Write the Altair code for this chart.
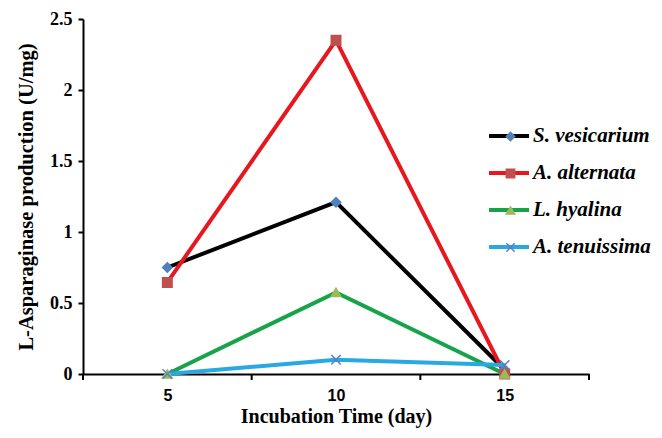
import altair as alt
import pandas as pd

days = [5, 10, 15]
series_names = ["S. vesicarium", "A. alternata", "L. hyalina", "A. tenuissima"]
s_vesicarium = [0.75, 1.21, 0.03]
a_alternata = [0.645, 2.35, 0.0]
l_hyalina = [0.0, 0.575, 0.0]
a_tenuissima = [0.0, 0.10, 0.063]
y_ticks = [0, 0.5, 1, 1.5, 2, 2.5]
x_labels = [5, 10, 15]
x_category_edges = [2.5, 7.5, 12.5, 17.5]

line_colors = ["#000000", "#e8171f", "#17a34a", "#29a9e1"]
marker_colors = ["#4f81bd", "#c0504d", "#9bbb59", "#5b7fc4"]
marker_shapes = ["diamond", "square", "triangle-up", "M-1,-1L1,1M-1,1L1,-1"]

rows = []
for name, vals in zip(series_names, [s_vesicarium, a_alternata, l_hyalina, a_tenuissima]):
    for d, v in zip(days, vals):
        rows.append({"day": d, "value": v, "series": name, "marker": name})
df = pd.DataFrame(rows)

SERIF = "Liberation Serif"
SANS = "Liberation Sans"
xscale = alt.Scale(domain=[2.5, 17.5], nice=False, zero=False)
yscale = alt.Scale(domain=[0, 2.5], nice=False)
xaxis = alt.Axis(values=x_labels, ticks=False, title="Incubation Time (day)",
                 orient="bottom", format="d")

LEG_X = 404
leg_common = dict(title=None, orient="none", legendX=LEG_X,
                  labelFont=SERIF, labelFontSize=21, labelFontStyle="italic",
                  labelFontWeight="bold", labelColor="#000000", labelOffset=2)

lines = alt.Chart(df).mark_line(strokeWidth=4).encode(
    x=alt.X("day:Q", scale=xscale, axis=xaxis),
    y=alt.Y("value:Q", scale=yscale,
            axis=alt.Axis(values=y_ticks, title="L-Asparaginase production (U/mg)",
                          labelExpr="toString(datum.value)")),
    color=alt.Color("series:N", sort=series_names,
                    scale=alt.Scale(domain=series_names, range=line_colors),
                    legend=alt.Legend(symbolType="stroke", symbolStrokeWidth=4,
                                      symbolSize=1600, legendY=95, rowPadding=5,
                                      **leg_common)),
    detail="series:N",
)

points = alt.Chart(df).mark_point(filled=True, size=90, opacity=1, strokeWidth=1.5).encode(
    x=alt.X("day:Q", scale=xscale, axis=xaxis),
    y=alt.Y("value:Q", scale=yscale),
    fill=alt.Fill("marker:N", scale=alt.Scale(domain=series_names, range=marker_colors),
                  legend=alt.Legend(symbolSize=70, symbolOffset=13, labelExpr="''",
                                    symbolStrokeWidth=1.5, legendY=107, rowPadding=15,
                                    **leg_common)),
    stroke=alt.Stroke("marker:N", scale=alt.Scale(domain=series_names, range=marker_colors)),
    shape=alt.Shape("marker:N", scale=alt.Scale(domain=series_names, range=marker_shapes)),
)

tick_df = pd.DataFrame({"t": x_category_edges})
ticks = alt.Chart(tick_df).mark_rule(color="black", strokeWidth=2).encode(
    x=alt.X("t:Q", scale=xscale, axis=xaxis),
    y=alt.value(355),
    y2=alt.value(361),
)

chart = alt.layer(lines, points, ticks).resolve_scale(
    fill="independent", stroke="independent", shape="independent"
).properties(
    width=506, height=355,
    autosize=alt.AutoSizeParams(type="none"),
    padding={"left": 75, "top": 11, "right": 65, "bottom": 56},
).configure_view(stroke=None).configure_axis(
    grid=False, domainColor="black", domainWidth=2, tickColor="black", tickWidth=2,
    tickSize=5, labelFont=SERIF, labelFontSize=18, labelFontWeight="bold",
    labelColor="#000000", titleFont=SERIF, titleFontSize=20.5, titleFontWeight="bold",
    titleColor="#000000",
).configure_axisY(labelPadding=6, titlePadding=13).configure_axisX(
    labelFont=SANS, labelFontSize=16, labelPadding=13, titlePadding=3,
    titleFontSize=20)

chart.save("out.html", embed_options={"renderer": "svg", "actions": False})
